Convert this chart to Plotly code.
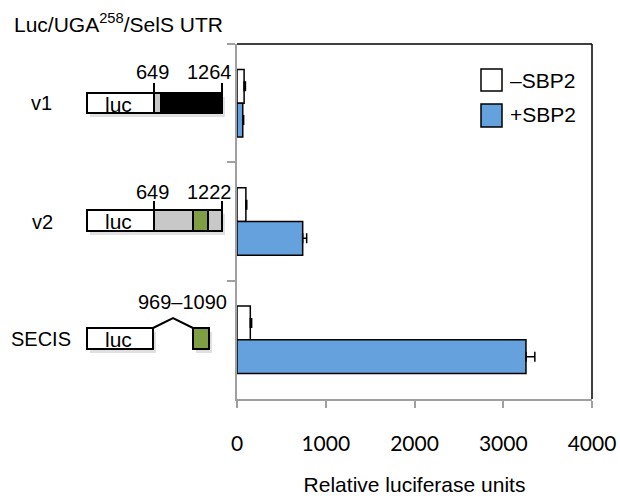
import plotly.graph_objects as go

# ---- data ----
constructs = ["v1", "v2", "SECIS"]
minus_sbp2 = [80, 100, 150]
minus_err = [15, 10, 15]
plus_sbp2 = [65, 740, 3256]
plus_err = [10, 45, 100]
no_err = [0, 0, 0]
x_ticks = [0, 1000, 2000, 3000, 4000]
series_names = ["\u2013SBP2", "+SBP2"]

BLUE = "#65a1dc"
GREEN = "#7f9e43"
GRAY = "#c8c8c8"
AXGRAY = "#a0a0a0"

W, H = 620, 496
L, R, T, B = 237, 592, 44, 399


def px(x):
    return (x - L) / (R - L)


def py(y):
    return (B - y) / (B - T)


fig = go.Figure()
fig.add_bar(
    y=constructs, x=minus_sbp2, orientation="h", name=series_names[0],
    marker=dict(color="white", line=dict(color="black", width=1.5)),
    error_x=dict(type="data", array=minus_err, arrayminus=no_err, symmetric=False,
                 color="black", thickness=1.5, width=5),
    showlegend=False,
)
fig.add_bar(
    y=constructs, x=plus_sbp2, orientation="h", name=series_names[1],
    marker=dict(color=BLUE, line=dict(color="black", width=1.5)),
    error_x=dict(type="data", array=plus_err, arrayminus=no_err, symmetric=False,
                 color="black", thickness=1.5, width=5),
    showlegend=False,
)

shapes = []
annos = []


def rect(x0, y0, x1, y1, fill, lw=2):
    shapes.append(dict(type="rect", xref="paper", yref="paper",
                       x0=px(x0), x1=px(x1), y0=py(y1), y1=py(y0),
                       fillcolor=fill, line=dict(color="black", width=lw), layer="above"))


def line(x0, y0, x1, y1, color="black", lw=2):
    shapes.append(dict(type="line", xref="paper", yref="paper",
                       x0=px(x0), x1=px(x1), y0=py(y0), y1=py(y1),
                       line=dict(color=color, width=lw), layer="above"))


def text(x, y, s, size=20, xanchor="center", family="Liberation Sans, Arial, sans-serif"):
    annos.append(dict(xref="paper", yref="paper", x=px(x), y=py(y), text=s,
                      showarrow=False, xanchor=xanchor, yanchor="middle",
                      font=dict(size=size, color="black", family=family)))


def shadow(x0, y0, x1, y1):
    shapes.append(dict(type="rect", xref="paper", yref="paper",
                       x0=px(x0 + 3), x1=px(x1 + 3), y0=py(y1 + 4), y1=py(y0 + 4),
                       fillcolor="rgba(0,0,0,0.12)", line=dict(width=0), layer="above"))


# title
text(12, 23, "Luc/UGA<sup>258</sup>/SelS UTR", size=21, xanchor="left")

# v1
text(42, 103, "v1")
shadow(87, 93, 222, 113)
rect(87, 93, 154, 113, "white")
rect(154, 93, 161, 113, GRAY)
rect(161, 93, 222, 113, "black")
line(154, 83, 154, 93)
line(222, 83, 222, 93)
text(152, 72, "649")
text(209, 72, "1264")
text(118, 104, "luc", size=21)

# v2
text(43, 222, "v2")
shadow(87, 210, 222, 231)
rect(87, 210, 154, 231, "white")
rect(154, 210, 222, 231, GRAY)
rect(193, 210, 208, 231, GREEN)
line(154, 201, 154, 210)
line(222, 201, 222, 210)
text(152, 192, "649")
text(209, 192, "1222")
text(118, 221, "luc", size=21)

# SECIS
text(41, 339, "SECIS")
shadow(87, 328, 153, 349)
shadow(193, 328, 209, 349)
rect(87, 328, 153, 349, "white")
shapes.append(dict(type="path", xref="paper", yref="paper",
                   path=f"M {px(153)},{py(328)} L {px(173)},{py(318)} L {px(193)},{py(328)}",
                   line=dict(color="black", width=2), layer="above"))
rect(193, 328, 209, 349, GREEN)
text(182, 302, "969\u20131090")
text(118, 339, "luc", size=21)

# legend (manual, large boxes)
rect(481, 69, 502, 91, "white", lw=1.5)
rect(481, 104, 502, 127, BLUE, lw=1.5)
text(508, 80, series_names[0], size=21, xanchor="left")
text(508, 115, series_names[1], size=21, xanchor="left")

# plot frame top/right (black)
line(237, 44, 592, 44, lw=1.5)
line(592, 44, 592, 399, lw=1.5)

fig.update_layout(
    width=W, height=H,
    margin=dict(l=L, r=W - R, t=T, b=H - B, pad=0),
    paper_bgcolor="white", plot_bgcolor="white",
    barmode="group", bargap=0.43, bargroupgap=0,
    shapes=shapes, annotations=annos,
    font=dict(family="Liberation Sans, Arial, sans-serif", color="black"),
)
fig.update_xaxes(
    range=[0, 4000], tickvals=x_ticks, ticks="outside", ticklen=7, tickwidth=2,
    tickcolor=AXGRAY, showline=True, linecolor=AXGRAY, linewidth=2,
    showgrid=False, zeroline=False, tickfont=dict(family="Lato, Open Sans, sans-serif", size=21),
    ticklabelstandoff=18,
    title=dict(text="Relative luciferase units", standoff=30,
               font=dict(family="Liberation Sans, Arial, sans-serif", size=21)),
    automargin=False,
)
fig.update_yaxes(
    categoryorder="array", categoryarray=constructs, range=[2.5, -0.5],
    showticklabels=False, ticks="outside", ticklen=8, tickwidth=2, tickcolor=AXGRAY,
    tickson="boundaries", showline=True, linecolor=AXGRAY, linewidth=2,
    showgrid=False, zeroline=False, automargin=False,
)

fig.write_html("out.html")
